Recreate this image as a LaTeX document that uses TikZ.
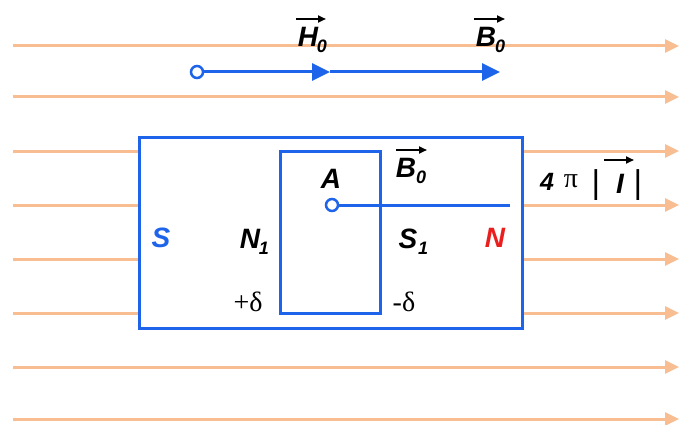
\documentclass[tikz,border=0pt]{standalone}
\usepackage{fontspec}
\setmainfont{Liberation Sans}
\newfontfamily\grfont{Liberation Serif}
\usetikzlibrary{arrows.meta}

\definecolor{fieldorange}{RGB}{248,190,145}
\definecolor{magblue}{RGB}{30,100,235}
\definecolor{polered}{RGB}{235,30,30}

\begin{document}
\begin{tikzpicture}[x=1pt,y=-1pt,
    fieldline/.style={fieldorange, line width=3pt},
    fieldarrow/.style={fieldline, -{Triangle[length=14pt,width=13pt]}},
    bluearrow/.style={magblue, line width=3pt, -{Triangle[length=18pt,width=17pt]}},
    vecarrow/.style={black, line width=2pt, -{Triangle[length=8pt,width=7pt]}},
    lab/.style={inner sep=0pt, font=\fontsize{28}{32}\selectfont\bfseries\itshape},
    sublab/.style={inner sep=0pt, font=\fontsize{18}{20}\selectfont\bfseries\itshape},
    grk/.style={inner sep=0pt, font=\fontsize{28}{32}\selectfont\grfont},
    barlab/.style={inner sep=0pt, font=\fontsize{33}{36}\selectfont}]
    \useasboundingbox (0,0) rectangle (679,425);

    % Field lines of the outer field
    \foreach \y in {46,97,367,419}
        \draw[fieldarrow] (13,\y) -- (679,\y);
    \foreach \y in {151,205,259,313} {
        \draw[fieldline] (13,\y) -- (139,\y);
        \draw[fieldarrow] (522,\y) -- (679,\y);
    }

    % Magnet and inner cavity
    \coordinate (M1) at (139,137);
    \coordinate (M2) at (522,328);
    \coordinate (C1) at (280,151);
    \coordinate (C2) at (380,313);
    \draw[magblue, line width=3pt] (M1) rectangle (M2);
    \draw[magblue, line width=3pt] (C1) rectangle (C2);

    % Vector B0 from point A
    \coordinate (A) at (332,205);
    \coordinate (Aend) at (510,205);
    \draw[magblue, line width=3pt] (A) -- (Aend);
    \draw[magblue, line width=2.5pt, fill=white] (A) circle (6);

    % Vectors H0 and B0 above
    \coordinate (O) at (197,72);
    \coordinate (Hend) at (330,72);
    \coordinate (Bend) at (500,72);
    \draw[bluearrow] (O) -- (Hend);
    \draw[bluearrow] (Hend) -- (Bend);
    \draw[magblue, line width=2.5pt, fill=white] (O) circle (6);

    % Labels with vector arrows
    \node[lab] (lH) at (308,37) {H};
    \node[sublab] (lH0) at (322,46) {0};
    \draw[vecarrow] (296,19) -- (326,19);
    \node[lab] (lB) at (486,37) {B};
    \node[sublab] (lB0) at (500,46) {0};
    \draw[vecarrow] (474,19) -- (505,19);
    \node[lab] (lBin) at (406,168) {B};
    \node[sublab] (lBin0) at (421,177) {0};
    \draw[vecarrow] (396,150) -- (427,150);
    \node[lab] (lI) at (620,184) {I};
    \draw[vecarrow] (604,160) -- (634,160);

    % Other labels
    \node[lab] (lA) at (331,179) {A};
    \node[lab, magblue] (lS) at (161,238) {S};
    \node[lab] (lN1) at (250,239) {N};
    \node[sublab] (lN1s) at (264,248) {1};
    \node[lab] (lS1) at (408,239) {S};
    \node[sublab] (lS1s) at (423,248) {1};
    \node[lab, polered] (lN) at (495,238) {N};
    \node[grk] (lp) at (248,302) {+δ};
    \node[grk] (lm) at (404,302) {-δ};
    \node[lab, font=\fontsize{25}{28}\selectfont\bfseries\itshape] (l4) at (547,182) {4};
    \node[grk] (lpi) at (571,181) {π};
    \node[barlab] (lbar1) at (596,185) {|};
    \node[barlab] (lbar2) at (638,185) {|};
\end{tikzpicture}
\end{document}
